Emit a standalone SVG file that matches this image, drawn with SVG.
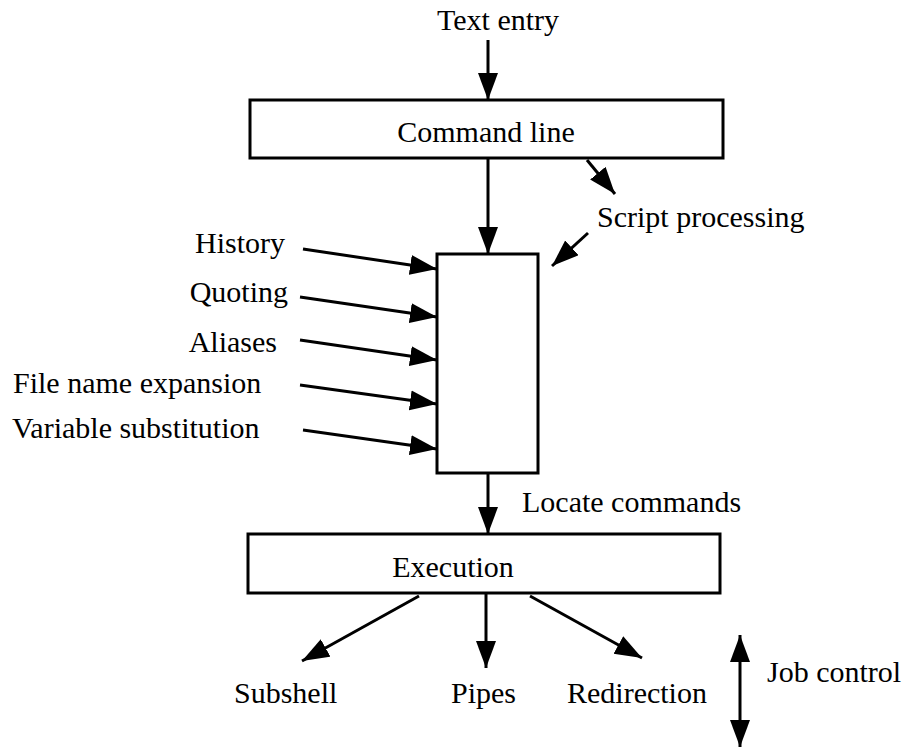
<svg xmlns="http://www.w3.org/2000/svg" width="913" height="750" viewBox="0 0 913 750">
<style>
text{font-family:"Liberation Serif","Times New Roman",serif;font-size:30px;fill:#000}
.box{fill:#fff;stroke:#000;stroke-width:3}
.c{stroke:#000;stroke-width:3;fill:none}
</style>
<defs>
<marker id="ah" markerUnits="userSpaceOnUse" markerWidth="28" markerHeight="22" refX="27" refY="10" orient="auto-start-reverse">
<path d="M0,0 L27,10 L0,20 z" fill="#000"/>
</marker>
</defs>
<rect width="913" height="750" fill="#fff"/>
<g id="connectors">
<line class="c" x1="488" y1="40" x2="488" y2="100" marker-end="url(#ah)"/>
<line class="c" x1="488" y1="158" x2="488" y2="254" marker-end="url(#ah)"/>
<line class="c" x1="587" y1="160" x2="615" y2="194" marker-end="url(#ah)"/>
<line class="c" x1="588" y1="233" x2="552" y2="266" marker-end="url(#ah)"/>
<line class="c" x1="303" y1="249" x2="437" y2="269" marker-end="url(#ah)"/>
<line class="c" x1="300" y1="297" x2="437" y2="317" marker-end="url(#ah)"/>
<line class="c" x1="300" y1="340" x2="437" y2="360" marker-end="url(#ah)"/>
<line class="c" x1="300" y1="385" x2="437" y2="404" marker-end="url(#ah)"/>
<line class="c" x1="303" y1="430" x2="437" y2="449" marker-end="url(#ah)"/>
<line class="c" x1="488" y1="473" x2="488" y2="534" marker-end="url(#ah)"/>
<line class="c" x1="419" y1="596" x2="302" y2="661" marker-end="url(#ah)"/>
<line class="c" x1="486" y1="593" x2="486" y2="668" marker-end="url(#ah)"/>
<line class="c" x1="530" y1="596" x2="642" y2="658" marker-end="url(#ah)"/>
<line class="c" x1="740" y1="635" x2="740" y2="747" marker-start="url(#ah)" marker-end="url(#ah)"/>
</g>
<g id="text-entry"><text x="437" y="30">Text entry</text></g>
<g id="command-line"><rect class="box" x="250" y="100" width="473" height="58"/><text x="486" y="142" text-anchor="middle">Command line</text></g>
<g id="script-processing"><text x="597" y="227">Script processing</text></g>
<g id="processor"><rect class="box" x="437" y="254" width="101" height="219"/></g>
<g id="history"><text x="285" y="253" text-anchor="end">History</text></g>
<g id="quoting"><text x="288" y="302" text-anchor="end">Quoting</text></g>
<g id="aliases"><text x="277" y="352" text-anchor="end">Aliases</text></g>
<g id="file-name-expansion"><text x="13" y="393">File name expansion</text></g>
<g id="variable-substitution"><text x="12" y="438">Variable substitution</text></g>
<g id="locate-commands"><text x="522" y="512">Locate commands</text></g>
<g id="execution"><rect class="box" x="248" y="534" width="472" height="59"/><text x="453" y="577" text-anchor="middle">Execution</text></g>
<g id="subshell"><text x="234" y="703">Subshell</text></g>
<g id="pipes"><text x="451" y="703">Pipes</text></g>
<g id="redirection"><text x="567" y="703">Redirection</text></g>
<g id="job-control"><text x="767" y="682">Job control</text></g>
</svg>
